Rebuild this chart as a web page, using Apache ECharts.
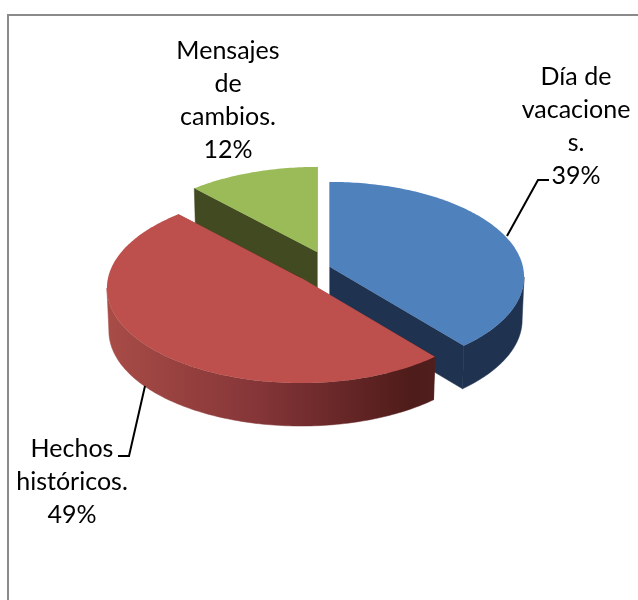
<!DOCTYPE html>
<html>
<head>
<meta charset="utf-8">
<style>
  html, body { margin: 0; padding: 0; background: #fff; }
  #chart { width: 638px; height: 600px; }
</style>
<script src="https://cdn.jsdelivr.net/npm/echarts@6/dist/echarts.min.js"></script>
</head>
<body>
<div id="chart"></div>
<script>
// valores
var categories = ['Día de\nvacacione\ns.', 'Hechos\nhistóricos.', 'Mensajes\nde\ncambios.']
var values = [39, 49, 12]

// se dibuja de atras hacia adelante: verde, azul, rojo
var drawOrder = [2, 0, 1]

var total = values.reduce(function (a, b) { return a + b }, 0)

// proyeccion del disco: perspectiva simple, el frente se ve mas grande
var RX = 193, RY = 94, PERSP = 0.105, DEPTH = 43, BASE_SCALE = 0.99

// apex = punta de cada porcion ya separada (explosion)
var sliceStyles = [
  {
    apex: [330, 267], top: '#4f81bd', side: '#1f3350',
    labelAt: [576, 126], leader: [[507, 236], [538, 180], [549, 180]]
  },
  {
    apex: [301, 278], top: '#bd504c',
    side: new echarts.graphic.LinearGradient(0, 0, 1, 0, [
      { offset: 0, color: '#a84c47' },
      { offset: 0.45, color: '#863638' },
      { offset: 0.8, color: '#5e2222' },
      { offset: 0.93, color: '#4e1c1a' },
      { offset: 1, color: '#501e1c' }
    ]),
    labelAt: [72, 482], leader: [[145, 386], [129, 456], [118, 456]]
  },
  {
    apex: [317, 252], top: '#9bbb59', side: '#414a20',
    labelAt: [228, 100], leader: null
  }
]

function project(apex, theta, scale, drop) {
  var u = Math.sin(theta), v = -Math.cos(theta)
  var w = 1 - PERSP * v
  return [apex[0] + scale * RX * u / w, apex[1] + RY * v / w + drop]
}

function arcPoints(apex, from, to, scale, drop) {
  var n = Math.max(2, Math.ceil((to - from) / (Math.PI / 180)))
  var pts = []
  for (var i = 0; i <= n; i++) {
    pts.push(project(apex, from + (to - from) * i / n, scale, drop))
  }
  return pts
}

function renderSlice(params, api) {
  var idx = api.value(1)
  var st = sliceStyles[idx]
  var before = 0
  for (var i = 0; i < idx; i++) before += values[i]
  var from = before / total * Math.PI * 2
  var to = (before + api.value(0)) / total * Math.PI * 2

  var apex = st.apex
  var apexLow = [apex[0], apex[1] + DEPTH]
  var topArc = arcPoints(apex, from, to, 1, 0)
  var lowArc = arcPoints(apex, from, to, BASE_SCALE, DEPTH)

  var children = []
  var wall = function (pts, fill) {
    children.push({ type: 'polygon', shape: { points: pts }, style: { fill: fill, stroke: fill, lineWidth: 0.5 } })
  }
  // paredes de corte, la cara superior tapa lo de atras
  wall([apex, topArc[0], lowArc[0], apexLow], st.side)
  wall([apex, topArc[topArc.length - 1], lowArc[lowArc.length - 1], apexLow], st.side)

  // borde exterior: solo la parte que mira al frente
  var frontStart = Math.acos(-PERSP)
  var frontEnd = Math.PI * 2 - frontStart
  var a = Math.max(from, frontStart), b = Math.min(to, frontEnd)
  if (a < b) {
    wall(arcPoints(apex, a, b, 1, 0).concat(arcPoints(apex, a, b, BASE_SCALE, DEPTH).reverse()), st.side)
  }

  children.push({
    type: 'polygon',
    shape: { points: [apex].concat(topArc) },
    style: { fill: st.top }
  })

  if (st.leader) {
    children.push({
      type: 'polyline',
      shape: { points: st.leader },
      style: { fill: 'none', stroke: '#000', lineWidth: 2 }
    })
  }
  children.push({
    type: 'text',
    style: {
      x: st.labelAt[0], y: st.labelAt[1],
      text: categories[idx] + '\n' + Math.round(api.value(0) / total * 100) + '%',
      align: 'center', verticalAlign: 'middle',
      font: '25px Lato', lineHeight: 33, fill: '#000'
    }
  })
  return { type: 'group', children: children }
}

var chart = echarts.init(document.getElementById('chart'), null, { renderer: 'canvas' })

chart.setOption({
  animation: false,
  backgroundColor: '#fff',
  graphic: [{
    type: 'polyline',
    shape: { points: [[8, 600], [8, 15], [638, 15]] },
    style: { fill: 'none', stroke: '#8a8a8a', lineWidth: 2 }
  }],
  series: [{
    type: 'custom',
    coordinateSystem: 'none',
    silent: true,
    renderItem: renderSlice,
    data: drawOrder.map(function (i) { return [values[i], i] })
  }]
})
</script>
</body>
</html>
